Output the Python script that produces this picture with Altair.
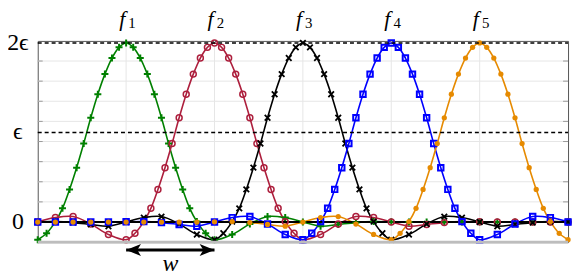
import altair as alt
import pandas as pd

# ---------------- data ----------------
EPS = 4.45                       # value of epsilon on the y scale (peak = 2*EPS)
peaks = [1, 2, 3, 4, 5]
names = ["f1", "f2", "f3", "f4", "f5"]
subs = ["1", "2", "3", "4", "5"]
colors = ["#008000", "#ad1f3d", "#000000", "#0000ff", "#e68a00"]

# common bump profile (distance from peak -> value)
offsets = [0.00, 0.08, 0.16, 0.24, 0.32, 0.40, 0.48, 0.56, 0.64, 0.72, 0.80, 0.90, 1.00,
           1.20, 1.40, 1.60, 1.80, 2.00, 2.20, 2.40, 2.60, 2.80, 3.00,
           3.20, 3.40, 3.60, 3.80, 4.00, 4.20, 4.40, 4.60, 4.80, 5.00]
profile = [8.90, 8.68, 8.15, 7.35, 6.35, 5.18, 3.90, 2.70, 1.62, 0.68, 0.02, -0.56, -0.88,
           -0.62, -0.10, 0.27, 0.22, 0.00, -0.21, -0.12, -0.03, 0.02, 0.01,
           0.00, 0.00, 0.00, 0.00, 0.00, 0.00, 0.00, 0.00, 0.00, 0.00]

ylab_vals = [0, EPS, 2 * EPS]
ylab_text = ["0", "ϵ", "2ϵ"]
grid_x = [1, 2, 3, 4, 5]
grid_y = [1, 2, 3, 4, 5, 6, 7, 8]
arrow_x = [1, 2]
X_DOMAIN = [0, 6]
Y_DOMAIN = [-1, 9]

W, H = 535, 203

# ---------------- build tables ----------------
full_off = [-o for o in reversed(offsets[1:])] + offsets
full_val = list(reversed(profile[1:])) + profile
rows = []
for name, k in zip(names, peaks):
    for d, v in zip(full_off, full_val):
        x = round(k + d, 4)
        if X_DOMAIN[0] <= x <= X_DOMAIN[1]:
            rows.append({"name": name, "x": x, "y": v})
curves = pd.DataFrame(rows)

xs = alt.Scale(domain=X_DOMAIN, nice=False, zero=False)
ys = alt.Scale(domain=Y_DOMAIN, nice=False, zero=False)
FONT = "'Liberation Serif', 'DejaVu Serif', serif"

gx = alt.Chart(pd.DataFrame({"x": grid_x})).mark_rule(color="#e6e6e6", strokeWidth=1).encode(
    x=alt.X("x:Q", scale=xs, axis=None), y=alt.value(0), y2=alt.value(H))
gy = alt.Chart(pd.DataFrame({"y": grid_y})).mark_rule(color="#e6e6e6", strokeWidth=1).encode(
    y=alt.Y("y:Q", scale=ys, axis=None), x=alt.value(0), x2=alt.value(W))
tl = alt.Chart(pd.DataFrame({"y": grid_y})).mark_rule(color="#999999", strokeWidth=1).encode(
    y=alt.Y("y:Q", scale=ys, axis=None), x=alt.value(0), x2=alt.value(5))
tr = alt.Chart(pd.DataFrame({"y": grid_y})).mark_rule(color="#999999", strokeWidth=1).encode(
    y=alt.Y("y:Q", scale=ys, axis=None), x=alt.value(W - 5), x2=alt.value(W))

lines = alt.Chart(curves).mark_line(interpolate="catmull-rom", strokeWidth=1.6).encode(
    x=alt.X("x:Q", scale=xs, axis=None),
    y=alt.Y("y:Q", scale=ys, axis=None),
    color=alt.Color("name:N", scale=alt.Scale(domain=names, range=colors), legend=None),
    detail="name:N",
)

zero = alt.Chart(pd.DataFrame({"y": [0]})).mark_rule(color="black", strokeWidth=2).encode(
    y=alt.Y("y:Q", scale=ys, axis=None), x=alt.value(0), x2=alt.value(W))

marker_shapes = ["M-1,0L1,0M0,-1L0,1", "circle", "M-1,-1L1,1M-1,1L1,-1", "square", "circle"]
marker_filled = [False, False, False, False, True]
marker_sizes = [50, 36, 32, 30, 28]
marker_stroke = [2, 1.5, 1.8, 2, 1]

points = []
for name, col, shp, fil, sz, sw in zip(names, colors, marker_shapes, marker_filled, marker_sizes, marker_stroke):
    points.append(
        alt.Chart(curves).transform_filter(alt.datum.name == name)
        .mark_point(shape=shp, filled=fil, size=sz, strokeWidth=sw, color=col, opacity=1)
        .encode(x=alt.X("x:Q", scale=xs, axis=None), y=alt.Y("y:Q", scale=ys, axis=None))
    )

dashed = alt.Chart(pd.DataFrame({"y": [EPS, 2 * EPS]})).mark_rule(
    color="black", strokeWidth=1.5, strokeDash=[4, 3]).encode(
    y=alt.Y("y:Q", scale=ys, axis=None), x=alt.value(0), x2=alt.value(W))

bottom = alt.Chart(pd.DataFrame({"y": [Y_DOMAIN[0]]})).mark_rule(color="#bdbdbd", strokeWidth=3).encode(
    y=alt.Y("y:Q", scale=ys, axis=None), x=alt.value(0), x2=alt.value(W))

ylab = alt.Chart(pd.DataFrame({"y": ylab_vals, "t": ylab_text})).mark_text(
    font=FONT, fontSize=24, align="center", baseline="middle", color="black").encode(
    y=alt.Y("y:Q", scale=ys, axis=None), x=alt.value(-20), text="t:N")

lab = pd.DataFrame({"x": peaks, "sub": subs})
f_txt = alt.Chart(lab).mark_text(text="f", font=FONT, fontStyle="italic", fontSize=22,
                                 align="center", baseline="alphabetic", dx=-4).encode(
    x=alt.X("x:Q", scale=xs, axis=None), y=alt.value(-15))
s_txt = alt.Chart(lab).mark_text(font=FONT, fontSize=15, align="center",
                                 baseline="alphabetic", dx=6).encode(
    x=alt.X("x:Q", scale=xs, axis=None), y=alt.value(-13), text="sub:N")

arr = pd.DataFrame({"x": [arrow_x[0]], "x2": [arrow_x[1]]})
shaft = alt.Chart(arr).mark_rule(color="black", strokeWidth=3).encode(
    x=alt.X("x:Q", scale=xs, axis=None), x2="x2:Q", y=alt.value(211))
head_l = alt.Chart(pd.DataFrame({"x": [arrow_x[0]]})).mark_point(
    shape="M-1,0L1,-0.8L0.5,0L1,0.8Z", filled=True, size=225, color="black", opacity=1, xOffset=7.5).encode(
    x=alt.X("x:Q", scale=xs, axis=None), y=alt.value(211))
head_r = alt.Chart(pd.DataFrame({"x": [arrow_x[1]]})).mark_point(
    shape="M1,0L-1,-0.8L-0.5,0L-1,0.8Z", filled=True, size=225, color="black", opacity=1, xOffset=-7.5).encode(
    x=alt.X("x:Q", scale=xs, axis=None), y=alt.value(211))
w_txt = alt.Chart(pd.DataFrame({"x": [(arrow_x[0] + arrow_x[1]) / 2]})).mark_text(
    text="w", font=FONT, fontStyle="italic", fontSize=24, align="center", baseline="alphabetic").encode(
    x=alt.X("x:Q", scale=xs, axis=None), y=alt.value(232))

chart = alt.layer(
    gx, gy, tl, tr, lines, zero, *points, dashed, bottom, ylab, f_txt, s_txt, shaft, head_l, head_r, w_txt
).properties(
    width=W, height=H,
    autosize=alt.AutoSizeParams(type="none"),
    padding={"left": 30, "top": 32, "right": 5, "bottom": 37},
).configure_view(stroke="#555555", strokeWidth=1)

chart.save("out.html", embed_options={"renderer": "svg", "actions": False})
